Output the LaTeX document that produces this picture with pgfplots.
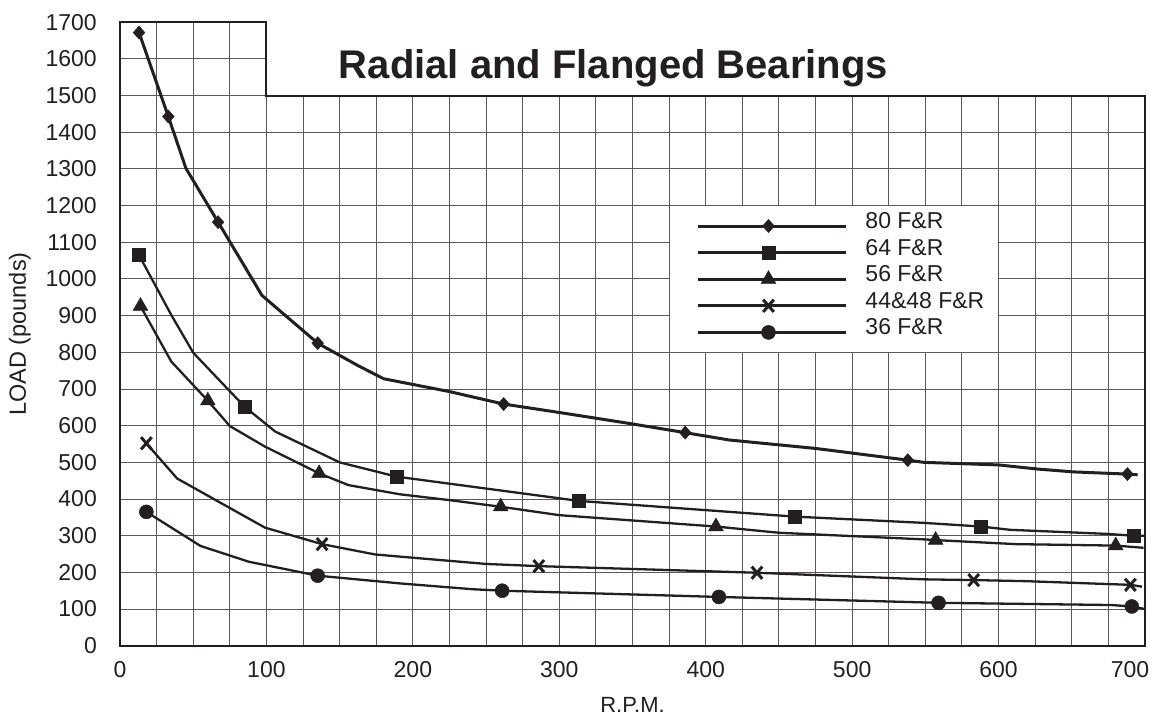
\documentclass[border=0pt]{standalone}
\usepackage{pgfplots}
\pgfplotsset{compat=1.18}
\usepackage{fontspec}
\setmainfont{Liberation Sans}
\definecolor{ink}{RGB}{35,31,32}
\definecolor{gridc}{RGB}{90,90,90}
\begin{document}
\begin{tikzpicture}
\begin{axis}[
  name=ax,
  scale only axis, width=1025pt, height=623.4pt,
  xmin=0, xmax=700, ymin=0, ymax=1700, enlargelimits=false, clip=false,
  xtick={0,100,...,700}, ytick={0,100,...,1700}, minor x tick num=3,
  xticklabels={0,100,200,300,400,500,600,{\makebox[0pt]{\kern-30pt 700}}},
  grid=both, major grid style={line width=1pt, gridc}, minor grid style={line width=1pt, gridc},
  major tick length=0pt, minor tick length=0pt,
  axis line style={draw=none},
  /pgf/number format/assume math mode=true,
  /pgf/number format/1000 sep={},
  ticklabel style={font=\fontsize{23}{27}\selectfont, text=ink},
  xticklabel style={inner sep=0pt, anchor=north, yshift=-16pt},
  yticklabel style={inner sep=0pt, anchor=east, xshift=-23pt},
  xlabel={R.P.M.}, ylabel={LOAD (pounds)},
  label style={font=\fontsize{22}{26}\selectfont, text=ink, inner sep=0pt},
  xlabel style={at={(axis description cs:0.5,0)}, anchor=base, yshift=-67pt},
  ylabel style={at={(axis description cs:0,0.5)}, anchor=base, yshift=94pt, font=\fontsize{23.5}{27}\selectfont},
  legend style={at={(0.5629,0.6989)}, anchor=north west, draw=none, fill=none,
    inner sep=0pt, outer sep=0pt, row sep=2.6pt,
    nodes={inner sep=0pt, text height=16pt, text depth=3pt, font=\fontsize{23}{27}\selectfont, text=ink},
    cells={anchor=west}},
  legend image code/.code={\path[draw=none, fill=none] (0pt,-12pt) rectangle (167pt,12pt);
    \draw[#1, line width=3pt, mark indices={2}] plot coordinates {(0pt,-4pt) (70pt,-4pt) (148pt,-4pt)};},
]
% white areas
\fill[white] ([xshift=0.5pt]axis cs:100,1500) rectangle (axis cs:720,1720);
\fill[white] ([xshift=0.6pt,yshift=0.6pt]axis cs:375,800) rectangle ([xshift=-0.6pt,yshift=-0.6pt]axis cs:600,1200);
% frame
\draw[line width=2pt, ink] (axis cs:0,0) -- (axis cs:0,1700) -- (axis cs:100,1700) -- (axis cs:100,1500) -- (axis cs:700,1500) -- (axis cs:700,0) -- cycle;

\addplot[ink, line width=3pt, mark=diamond*, mark size=6.5pt,
  mark options={solid, line width=0.5pt, fill=ink, xscale=1.2}, mark indices={1,2,4,6,11,14,17,22}]
coordinates {(13,1672)(33,1443)(45,1302)(67,1155)(97,955)(135,825)(162,765)(180,728)(225,693)(250,670)(262,659)(300,636)(348,606)(386,581)(416,561)(475,538)(538,506)(549,500)(600,493)(626,482)(651,474)(688,468)(695,466)};
\addlegendentry{80 F\&R}

\addplot[ink, line width=2.3pt, mark=square*, mark size=6.5pt,
  mark options={solid, line width=0.5pt, fill=ink}, mark indices={1,4,7,9,10,12,15}]
coordinates {(13,1065)(35,902)(50,799)(85,652)(106,584)(150,500)(189,461)(300,402)(313,395)(461,352)(549,335)(588,325)(608,316)(674,305)(692,300)(700,300)};
\addlegendentry{64 F\&R}

\addplot[ink, line width=2.3pt, mark=triangle*, mark size=8.5pt,
  mark options={solid, line width=0.5pt, fill=ink}, mark indices={1,3,6,10,12,15,17}]
coordinates {(14,926)(35,775)(60,668)(75,599)(99,543)(136,470)(156,438)(191,413)(225,397)(260,379)(300,356)(407,325)(450,308)(549,290)(557,288)(612,277)(680,273)(699,267)};
\addlegendentry{56 F\&R}

\addplot[ink, line width=2.3pt, mark=x, mark size=7.5pt,
  mark options={solid, line width=3pt, yscale=1.15}, mark indices={1,4,8,9,11,13}]
coordinates {(18,552)(39,456)(99,322)(138,277)(174,249)(191,243)(250,223)(286,217)(435,199)(549,181)(583,179)(619,176)(690,166)(698,161)};
\addlegendentry{44\&48 F\&R}

\addplot[ink, line width=2.3pt, mark=*, mark size=7pt,
  mark options={solid, line width=0.5pt, fill=ink}, mark indices={1,4,7,8,9,11}]
coordinates {(18,365)(55,272)(88,229)(135,191)(191,170)(241,154)(261,150)(409,133)(559,117)(677,111)(691,107)(700,100)};
\addlegendentry{36 F\&R}

\node[anchor=base, inner sep=0pt, text=ink, font=\fontsize{40}{48}\selectfont\bfseries] at (axis cs:337,1548) {Radial and Flanged Bearings};
\end{axis}
\pgfresetboundingbox
\path ([shift={(-120pt,-73.3pt)}]ax.south west) rectangle ([shift={(11pt,22.3pt)}]ax.north east);
\end{tikzpicture}
\end{document}
